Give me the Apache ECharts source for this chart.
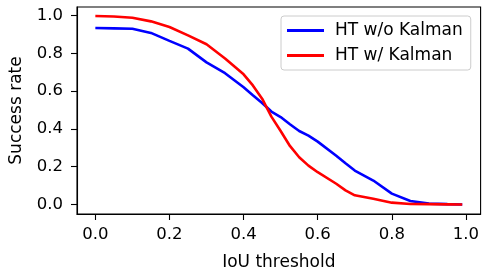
<!DOCTYPE html>
<html>
<head>
<meta charset="utf-8">
<script src="https://cdn.jsdelivr.net/npm/echarts@6/dist/echarts.min.js"></script>
<style>
  html, body { margin: 0; padding: 0; background: #fff; }
  #chart { width: 482px; height: 276px; }
</style>
</head>
<body>
<div id="chart"></div>
<script>
// IoU 阈值
const iou = [0, 0.05, 0.1, 0.15, 0.2, 0.25, 0.3, 0.35, 0.4, 0.425, 0.45, 0.475, 0.5,
  0.525, 0.55, 0.575, 0.6, 0.65, 0.675, 0.7, 0.75, 0.8, 0.85, 0.9, 0.95, 0.99]
// 成功率
const noKalman = [0.934, 0.932, 0.930, 0.908, 0.866, 0.825, 0.752, 0.695, 0.620, 0.578, 0.537, 0.492, 0.463,
  0.425, 0.389, 0.365, 0.333, 0.258, 0.218, 0.180, 0.127, 0.058, 0.019, 0.005, 0.002, 0.0]
const withKalman = [0.997, 0.995, 0.988, 0.969, 0.939, 0.895, 0.848, 0.773, 0.689, 0.630, 0.560, 0.465, 0.389,
  0.310, 0.250, 0.206, 0.171, 0.110, 0.075, 0.049, 0.031, 0.010, 0.003, 0.002, 0.001, 0.0]
const tickValues = [0, 0.2, 0.4, 0.6, 0.8, 1.0]
const seriesNames = ['HT w/o Kalman', 'HT w/ Kalman']

const font = 'DejaVu Sans'
const pair = (xs, ys) => xs.map((x, i) => [x, ys[i]])

const chart = echarts.init(document.getElementById('chart'))

const axisCommon = {
  type: 'value',
  axisLine: { show: true, onZero: false, lineStyle: { color: '#000', width: 1.1 } },
  axisTick: { show: true, inside: false, length: 6, lineStyle: { color: '#000', width: 1.1 }, customValues: tickValues },
  axisLabel: { color: '#000', fontFamily: font, fontSize: 16.5, customValues: tickValues,
    formatter: v => v.toFixed(1) },
  splitLine: { show: false },
  nameLocation: 'middle',
  nameTextStyle: { color: '#000', fontFamily: font, fontSize: 17 }
}

chart.setOption({
  animation: false,
  grid: { left: 75, right: 1, top: 7, bottom: 58, show: true, borderColor: '#000', borderWidth: 1.1 },
  xAxis: {
    ...axisCommon,
    min: -0.0495,
    max: 1.0395,
    name: 'IoU threshold',
    nameGap: 40,
    axisLabel: { ...axisCommon.axisLabel, margin: 12 }
  },
  yAxis: {
    ...axisCommon,
    min: -0.05,
    max: 1.045,
    name: 'Success rate',
    nameGap: 52,
    axisLabel: { ...axisCommon.axisLabel, margin: 14 }
  },
  legend: {
    orient: 'vertical',
    left: 281,
    top: 16,
    width: 192,
    padding: [6, 8, 6, 6],
    itemGap: 8,
    itemWidth: 37,
    itemHeight: 3,
    icon: 'rect',
    backgroundColor: 'rgba(255,255,255,0.8)',
    borderColor: '#cccccc',
    borderWidth: 1,
    borderRadius: 3,
    textStyle: { color: '#000', fontFamily: font, fontSize: 17, padding: [0, 0, 0, 6] },
    data: seriesNames
  },
  series: [
    {
      type: 'line',
      name: seriesNames[0],
      data: pair(iou, noKalman),
      showSymbol: false,
      lineStyle: { color: '#0000ff', width: 2.6 },
      itemStyle: { color: '#0000ff' }
    },
    {
      type: 'line',
      name: seriesNames[1],
      data: pair(iou, withKalman),
      showSymbol: false,
      lineStyle: { color: '#ff0000', width: 2.6 },
      itemStyle: { color: '#ff0000' }
    }
  ]
})
</script>
</body>
</html>
